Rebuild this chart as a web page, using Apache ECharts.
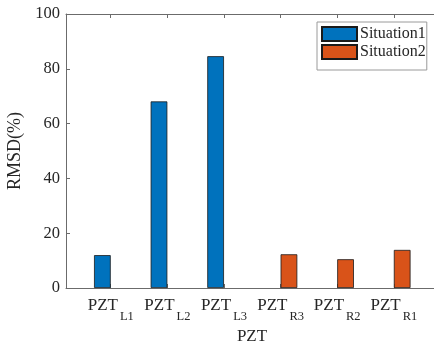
<!DOCTYPE html>
<html>
<head>
<meta charset="utf-8">
<script src="https://cdn.jsdelivr.net/npm/echarts@6/dist/echarts.min.js"></script>
<style>html,body{margin:0;padding:0;background:#fff;overflow:hidden;}#c{width:434px;height:347px;}</style>
</head>
<body>
<div id="c"></div>
<script>
const categories = ['L1', 'L2', 'L3', 'R3', 'R2', 'R1'];
const situation1 = [12.0, 68.1, 84.6, null, null, null];
const situation2 = [null, null, null, 12.3, 10.5, 13.9];
const yTicks = [0, 20, 40, 60, 80, 100];

const FONT = "'Liberation Serif', 'Times New Roman', serif";
const AX = '#6b6b6b';
const TXT = '#262626';
const positions = categories.map((c, i) => i + 1);

function toPairs(arr) {
  return arr.map((v, i) => [i + 1, v]).filter(p => p[1] !== null);
}

const chart = echarts.init(document.getElementById('c'), null, {renderer: 'canvas'});
chart.setOption({
  animation: false,
  backgroundColor: '#fff',
  textStyle: {fontFamily: FONT, color: TXT},
  grid: {left: 66, top: 14, width: 372, height: 274, containLabel: false, outerBoundsMode: 'none'},
  legend: {
    left: 317, top: 22,
    orient: 'vertical',
    icon: 'rect',
    itemWidth: 35, itemHeight: 14, itemGap: 2,
    padding: [4, 1, 10, 4],
    borderColor: '#9a9a9a', borderWidth: 1, backgroundColor: '#fff',
    textStyle: {fontFamily: FONT, fontSize: 16, lineHeight: 16, color: TXT, padding: [0, 0, 0, -2]},
    data: ['Situation1', 'Situation2']
  },
  xAxis: [{
    type: 'value', min: 0.21, max: 6.78,
    name: 'PZT', nameLocation: 'middle', nameGap: 39,
    nameTextStyle: {fontFamily: FONT, fontSize: 17, color: TXT},
    axisLine: {show: true, onZero: false, lineStyle: {color: AX, width: 1}},
    axisTick: {show: true, inside: true, length: 4, customValues: positions, lineStyle: {color: AX}},
    splitLine: {show: false},
    axisLabel: {
      customValues: positions, margin: 9,
      formatter: v => '{a|PZT}{b|' + categories[Math.round(v) - 1] + '}',
      rich: {
        a: {fontFamily: FONT, fontSize: 17, color: TXT, lineHeight: 26, verticalAlign: 'top'},
        b: {fontFamily: FONT, fontSize: 12.5, color: TXT, lineHeight: 26, verticalAlign: 'bottom', padding: [0, 0, 0, 2]}
      }
    }
  }, {
    type: 'value', min: 0.21, max: 6.78, position: 'top',
    axisLine: {show: true, onZero: false, lineStyle: {color: AX, width: 1}},
    axisTick: {show: true, inside: true, length: 4, customValues: positions, lineStyle: {color: AX}},
    axisLabel: {show: false},
    splitLine: {show: false}
  }],
  yAxis: [{
    type: 'value', min: 0, max: 100, interval: 20,
    name: 'RMSD(%)', nameLocation: 'middle', nameGap: 37, nameRotate: 90,
    nameTextStyle: {fontFamily: FONT, fontSize: 18, color: TXT},
    axisLine: {show: true, onZero: false, lineStyle: {color: AX, width: 1}},
    axisTick: {show: true, inside: true, length: 4, lineStyle: {color: AX}},
    axisLabel: {fontFamily: FONT, fontSize: 16.5, color: TXT, margin: 6,
      customValues: yTicks},
    splitLine: {show: false}
  }],
  series: [{
    name: 'Situation1', type: 'bar', xAxisIndex: 0, yAxisIndex: 0,
    barWidth: 16.7, barGap: '0%',
    itemStyle: {color: '#0072BD', borderColor: '#1a1a1a', borderWidth: 0.8},
    data: toPairs(situation1)
  }, {
    name: 'Situation2', type: 'bar', xAxisIndex: 0, yAxisIndex: 0,
    barWidth: 16.7, barGap: '0%',
    itemStyle: {color: '#D95319', borderColor: '#1a1a1a', borderWidth: 0.8},
    data: toPairs(situation2)
  }]
});
</script>
</body>
</html>
